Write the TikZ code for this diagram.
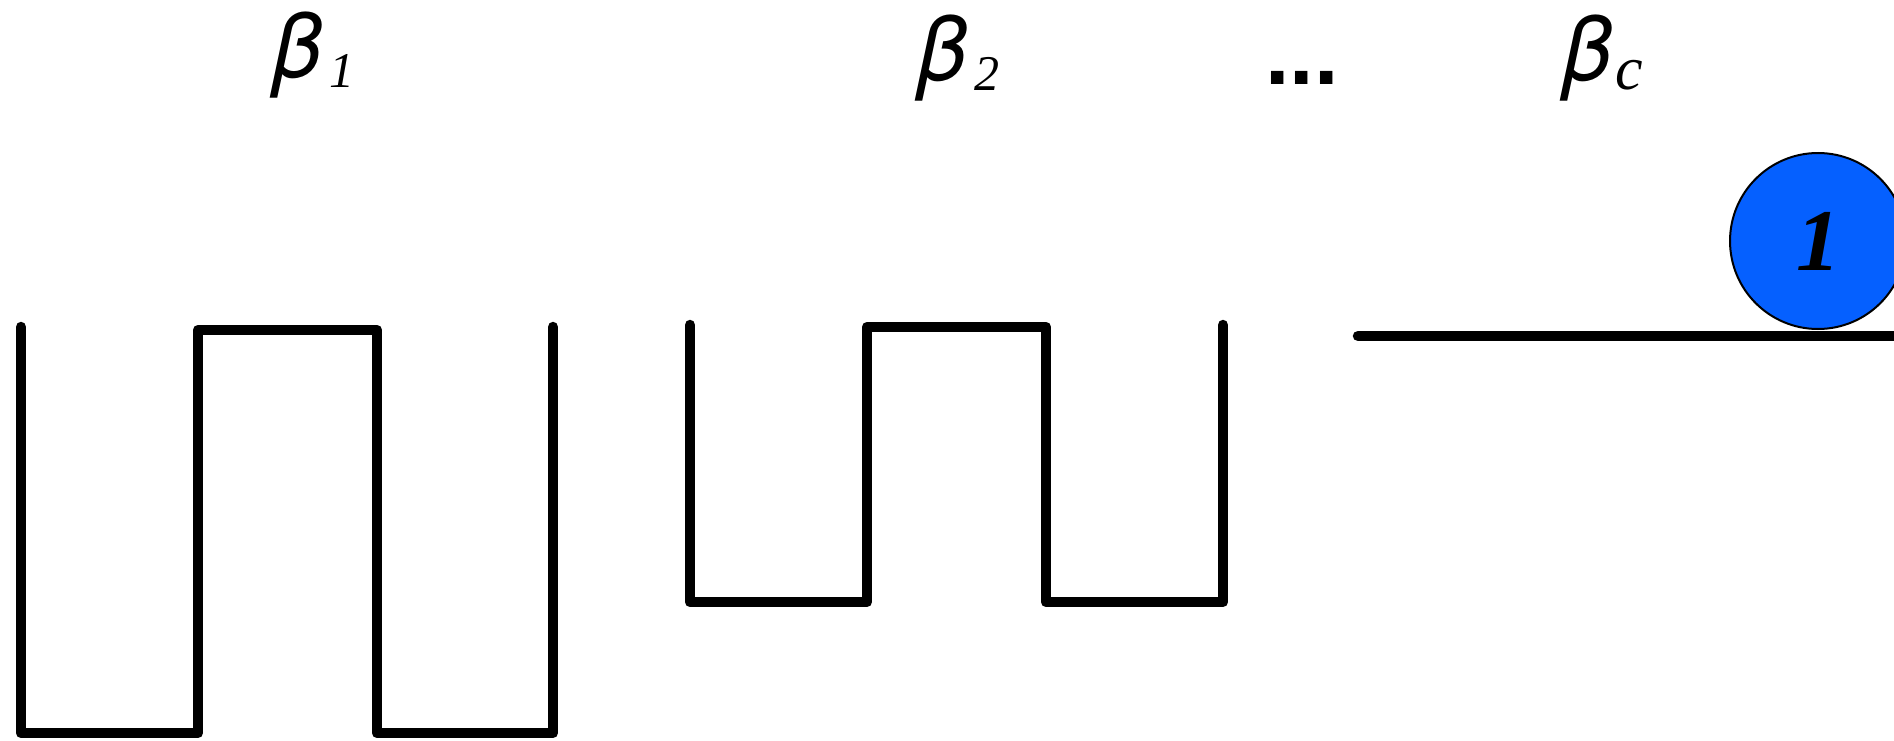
\documentclass[tikz,border=0pt]{standalone}
\usepackage{fontspec}
\setmainfont{Liberation Serif}
\newfontfamily\betafont{TeX Gyre Heros}
\newfontfamily\dotfont{Liberation Sans}
\definecolor{ballblue}{HTML}{0560FF}
\tikzset{
  wave/.style={line width=10.5pt,line join=round,line cap=round,black},
  lab/.style={inner sep=0pt,anchor=base west},
  betasym/.style={lab,font=\betafont\itshape\fontsize{90}{90}\selectfont},
  subsym/.style={lab,font=\itshape\fontsize{50}{50}\selectfont},
  subc/.style={lab,font=\itshape\fontsize{62}{62}\selectfont},
  ball/.style={circle,draw=black,line width=2pt,fill=ballblue,minimum size=176pt,inner sep=0pt,font=\bfseries\itshape\fontsize{88}{88}\selectfont},
}
\begin{document}
\begin{tikzpicture}[x=1pt,y=-1pt]
\useasboundingbox (0,0) rectangle (1894,741);
\clip (0,0) rectangle (1894,741);
\fill[white] (0,0) rectangle (1894,741);
% labels
\node[betasym] (b1) at (272,78) {β};
\node[subsym] (s1) at (329,88) {1};
\node[betasym] (b2) at (917,81) {β};
\node[subsym] (s2) at (974,91) {2};
\node[lab,font=\dotfont\bfseries\fontsize{88}{88}\selectfont] (dots) at (1265,85) {...};
\node[betasym] (bc) at (1562,81) {β};
\node[subc] (sc) at (1615,90) {c};
% waves
\draw[wave] (21,327) |- (198,733) |- (377,330) |- (553,733) -- (553,327);
\draw[wave] (690,325) |- (867,602) |- (1046,327) |- (1223,602) -- (1223,325);
\draw[wave] (1358,336) -- (1900,336);
% ball
\node[ball] (one) at (1818,241) {1};
\end{tikzpicture}
\end{document}
